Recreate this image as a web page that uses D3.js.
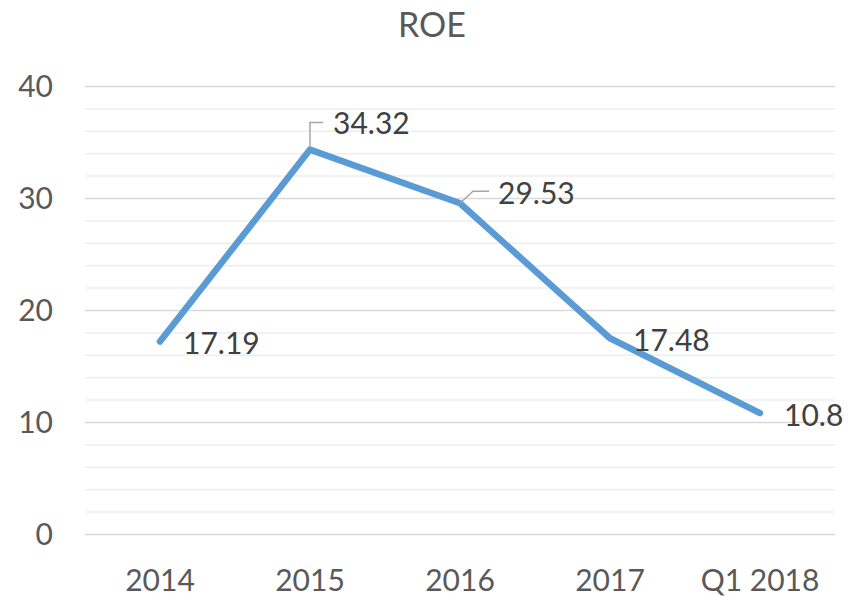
<!DOCTYPE html>
<html>
<head>
<meta charset="utf-8">
<script src="https://cdn.jsdelivr.net/npm/d3@7"></script>
<style>
  body { margin: 0; background: #fff; }
  svg text { font-family: Lato, "Open Sans", sans-serif; }
</style>
</head>
<body>
<div id="chart"></div>
<script>
var categories = ["2014", "2015", "2016", "2017", "Q1 2018"];
var roeValues = [17.19, 34.32, 29.53, 17.48, 10.8];
var labelTexts = ["17.19", "34.32", "29.53", "17.48", "10.8"];
var yTicks = [0, 10, 20, 30, 40];

var width = 858,
    height = 596;

var margin = {left: 85, right: 23, top: 86, bottom: 62};

var svg = d3.select("#chart")
    .append("svg")
    .attr("width", width)
    .attr("height", height);

var x = d3.scaleBand()
    .domain(categories)
    .range([margin.left, width - margin.right]);

var y = d3.scaleLinear()
    .domain([0, 40])
    .range([height - margin.bottom, margin.top]);

// minor gridlines every 2
svg.append("g")
    .selectAll("line")
    .data(d3.range(0, 41, 2).filter(function(d) { return d % 10 !== 0; }))
    .enter()
    .append("line")
    .attr("x1", margin.left)
    .attr("x2", width - margin.right)
    .attr("y1", function(d) { return y(d) + 0.5; })
    .attr("y2", function(d) { return y(d) + 0.5; })
    .attr("stroke", "#eeeeee")
    .attr("stroke-width", 1.5);

// major gridlines
svg.append("g")
    .selectAll("line")
    .data(yTicks)
    .enter()
    .append("line")
    .attr("x1", margin.left)
    .attr("x2", width - margin.right)
    .attr("y1", function(d) { return y(d) + 0.5; })
    .attr("y2", function(d) { return y(d) + 0.5; })
    .attr("stroke", "#d9d9d9")
    .attr("stroke-width", 1.5);

// y axis labels
svg.append("g")
    .selectAll("text")
    .data(yTicks)
    .enter()
    .append("text")
    .attr("x", 53)
    .attr("y", function(d) { return y(d); })
    .attr("dy", "0.36em")
    .attr("text-anchor", "end")
    .attr("fill", "#595959")
    .attr("font-size", 30)
    .text(function(d) { return d; });

// x axis labels
svg.append("g")
    .selectAll("text")
    .data(categories)
    .enter()
    .append("text")
    .attr("x", function(d) { return x(d) + x.bandwidth() / 2; })
    .attr("y", 591)
    .attr("text-anchor", "middle")
    .attr("fill", "#595959")
    .attr("font-size", 30)
    .text(function(d) { return d; });

// title
svg.append("text")
    .attr("x", 432)
    .attr("y", 37)
    .attr("text-anchor", "middle")
    .attr("fill", "#595959")
    .attr("font-size", 34)
    .text("ROE");

var points = categories.map(function(c, i) {
    return {cat: c, value: roeValues[i], label: labelTexts[i]};
});

var line = d3.line()
    .x(function(d) { return x(d.cat) + x.bandwidth() / 2; })
    .y(function(d) { return y(d.value); });

svg.append("path")
    .datum(points)
    .attr("d", line)
    .attr("fill", "none")
    .attr("stroke", "#5b9bd5")
    .attr("stroke-width", 6.5)
    .attr("stroke-linejoin", "round")
    .attr("stroke-linecap", "round");

// label offsets relative to the point (Excel moved two of them, with leader lines)
var labelOffsets = [
    {dx: 23, dy: 2, leader: null},
    {dx: 23, dy: -26, leader: [[0, -3], [0, -27], [13, -27]]},
    {dx: 38, dy: -10, leader: [[0, 0], [13, -12], [29, -12]]},
    {dx: 23, dy: 2, leader: null},
    {dx: 24, dy: 2, leader: null}
];

var labels = svg.append("g");

points.forEach(function(d, i) {
    var px = x(d.cat) + x.bandwidth() / 2,
        py = y(d.value),
        o = labelOffsets[i];
    if (o.leader) {
        labels.append("polyline")
            .attr("points", o.leader.map(function(p) { return (px + p[0]) + "," + (py + p[1]); }).join(" "))
            .attr("fill", "none")
            .attr("stroke", "#a6a6a6")
            .attr("stroke-width", 1.5);
    }
    labels.append("text")
        .attr("x", px + o.dx)
        .attr("y", py + o.dy)
        .attr("dy", "0.36em")
        .attr("fill", "#404040")
        .attr("font-size", 30)
        .text(d.label);
});
</script>
</body>
</html>
